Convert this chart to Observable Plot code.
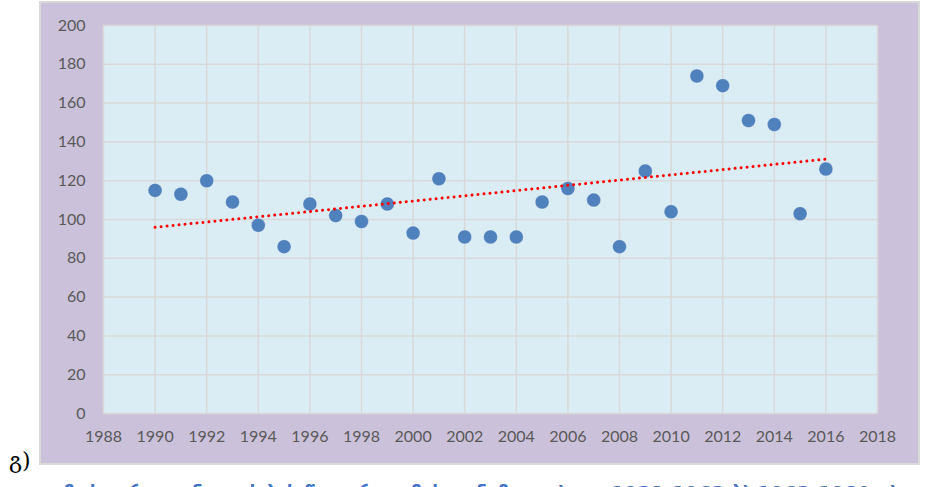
<!DOCTYPE html>
<html>
<head>
<meta charset="utf-8">
<script src="https://cdn.jsdelivr.net/npm/d3@7"></script>
<script src="https://cdn.jsdelivr.net/npm/@observablehq/plot@0.6"></script>
<style>
  html, body { margin: 0; padding: 0; background: #ffffff; }
  #page { position: relative; width: 925px; height: 487px; overflow: hidden; background: #fff; }
  #frame { position: absolute; left: 39px; top: 1px; width: 881px; height: 464px;
           border: 2px solid #d9d9d9; box-sizing: border-box; background: #ccc1da; }
  #chart { position: absolute; left: 41px; top: 3px; }
  #label { position: absolute; left: 9px; top: 448px; font-family: "DejaVu Serif", serif;
           font-size: 22px; color: #000; }
  .cap { position: absolute; top: 482px; white-space: nowrap;
         font-family: "DejaVu Sans", sans-serif; font-weight: bold; font-size: 19px; color: #4472c4; }
</style>
</head>
<body>
<div id="page">
  <div id="frame"></div>
  <div id="chart"></div>
  <div id="label">გ)</div>
  <div class="cap" style="left:40px">ატმოსფერული ნალექების წლიური ჯამის დინამიკა ა)</div>
  <div class="cap" style="left:611px">1931-1962 ბ) 1963-1989 გ)</div>
</div>
<script>
const years = [1990,1991,1992,1993,1994,1995,1996,1997,1998,1999,2000,2001,2002,2003,2004,2005,2006,2007,2008,2009,2010,2011,2012,2013,2014,2015,2016];
const values = [115,113,120,109,97,86,108,102,99,108,93,121,91,91,91,109,116,110,86,125,104,174,169,151,149,103,126];
const xTicks = [1988,1990,1992,1994,1996,1998,2000,2002,2004,2006,2008,2010,2012,2014,2016,2018];
const yTicks = [0,20,40,60,80,100,120,140,160,180,200];

const data = years.map((y, i) => ({year: y, value: values[i]}));

const chart = Plot.plot({
  width: 879,
  height: 462,
  marginLeft: 62,
  marginRight: 43,
  marginTop: 22,
  marginBottom: 52,
  style: {background: "transparent", fontFamily: "Lato, sans-serif", fontSize: "16px", color: "#595959"},
  x: {domain: [1988, 2018], ticks: xTicks, tickFormat: d => String(d), label: null, tickSize: 0, tickPadding: 17},
  y: {domain: [0, 200], ticks: yTicks, label: null, tickSize: 0, tickPadding: 18},
  marks: [
    Plot.frame({fill: "#daedf4", stroke: null}),
    Plot.gridX(xTicks, {stroke: "#d9d9d9", strokeOpacity: 1, strokeWidth: 1.5}),
    Plot.gridY(yTicks, {stroke: "#d9d9d9", strokeOpacity: 1, strokeWidth: 1.5}),
    Plot.axisX({ticks: xTicks, tickFormat: d => String(d), tickSize: 0, tickPadding: 17, fill: "#595959", fontSize: 16, label: null}),
    Plot.axisY({ticks: yTicks, tickSize: 0, tickPadding: 18, fill: "#595959", fontSize: 16, label: null}),
    Plot.dot(data, {x: "year", y: "value", r: 7, fill: "#4f81bd", stroke: "#ffffff", strokeOpacity: 0.35, strokeWidth: 1}),
    Plot.linearRegressionY(data, {x: "year", y: "value", ci: 0, stroke: "#ff0000", strokeWidth: 3, strokeDasharray: "0.01 6", strokeLinecap: "round"})
  ]
});
document.getElementById("chart").appendChild(chart);
</script>
</body>
</html>
